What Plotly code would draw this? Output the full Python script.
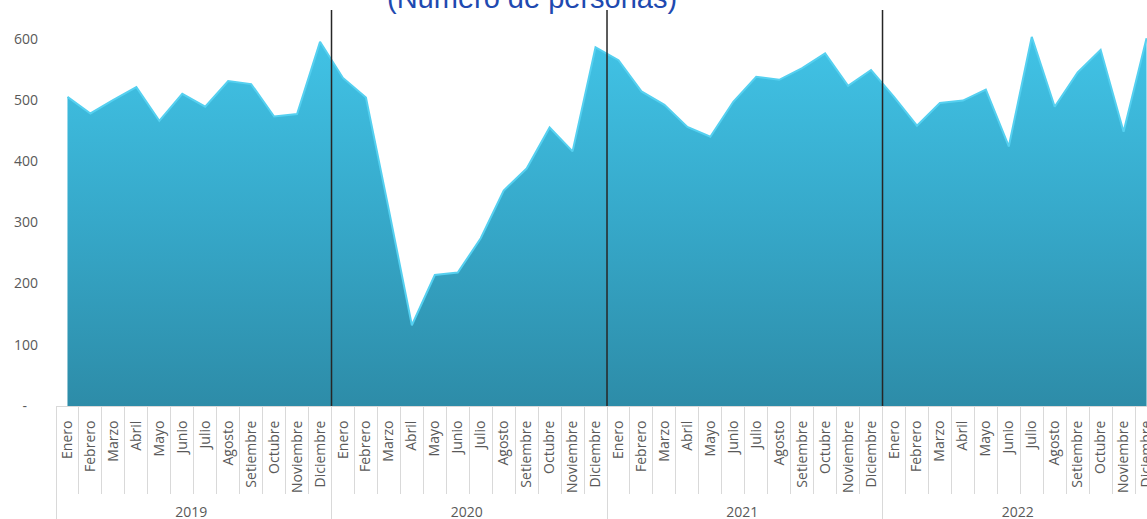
import plotly.graph_objects as go

years = ["2019", "2020", "2021", "2022"]
months = ["Enero", "Febrero", "Marzo", "Abril", "Mayo", "Junio", "Julio",
          "Agosto", "Setiembre", "Octubre", "Noviembre", "Diciembre"]

values_2019 = [505, 478, 500, 521, 466, 510, 489, 531, 526, 473, 477, 595]
values_2020 = [536, 504, 320, 132, 214, 218, 274, 352, 388, 455, 416, 586]
values_2021 = [565, 514, 492, 456, 440, 497, 538, 533, 552, 576, 523, 549]
values_2022 = [505, 458, 495, 499, 517, 424, 603, 489, 545, 582, 448, 601]

y_tick_values = [0, 100, 200, 300, 400, 500, 600]
y_tick_labels = ["-\u00a0\u00a0\u00a0", "100", "200", "300", "400", "500", "600"]

title_text = "(Número de personas)"

# leading invisible spaces only pad the rotated labels' box (pushes the year row down)
month_labels = ["\u00a0\u200a" + m for m in months]
x_year = [y for y in years for _ in months]
x_month = month_labels * len(years)
values = values_2019 + values_2020 + values_2021 + values_2022

fig = go.Figure()
fig.add_trace(go.Scatter(
    x=[x_year, x_month],
    y=values,
    mode="lines",
    fill="tozeroy",
    line=dict(color="#55D0F0", width=2),
    fillgradient=dict(type="vertical",
                      colorscale=[[0, "#2D8CA8"], [0.5, "#36A8C9"], [1, "#41C3E6"]],
                      start=0, stop=600),
    hoverinfo="skip",
    showlegend=False,
))

# vertical separators between years
n = len(months)
for k in range(1, len(years)):
    fig.add_shape(type="line", xref="x", yref="paper",
                  x0=k * n - 0.5, x1=k * n - 0.5, y0=0, y1=1,
                  line=dict(color="#262626", width=1.5), layer="above")

fig.add_annotation(text=title_text, xref="paper", yref="paper",
                   x=0.436, y=1, xanchor="center", yanchor="bottom", yshift=-6,
                   showarrow=False,
                   font=dict(family="Liberation Sans, Arial", size=29, color="#1F4AB0"))

fig.update_layout(
    width=1147, height=519,
    margin=dict(l=56, r=0, t=10, b=113),
    plot_bgcolor="white", paper_bgcolor="white",
    font=dict(family="Open Sans", size=14, color="#595959"),
)
fig.update_xaxes(
    type="multicategory",
    range=[-0.5, 47.02],
    tickangle=-90,
    ticks="outside", ticklen=87, tickcolor="#D9D9D9", tickwidth=1,
    ticklabelstandoff=8,
    showdividers=True, dividercolor="#D9D9D9", dividerwidth=1,
    showline=True, linecolor="#D9D9D9", linewidth=1,
    showgrid=False, automargin=False,
    tickfont=dict(family="Open Sans", size=14, color="#595959"),
)
fig.update_yaxes(
    range=[0, 647],
    tickvals=y_tick_values, ticktext=y_tick_labels,
    showgrid=False, zeroline=False, showline=False,
    ticklabelstandoff=17, automargin=False,
    tickfont=dict(family="Open Sans", size=14, color="#595959"),
)

fig.write_html("out.html", config={"displayModeBar": False},
               post_script="document.body.style.margin='0';document.body.style.overflow='hidden';")
